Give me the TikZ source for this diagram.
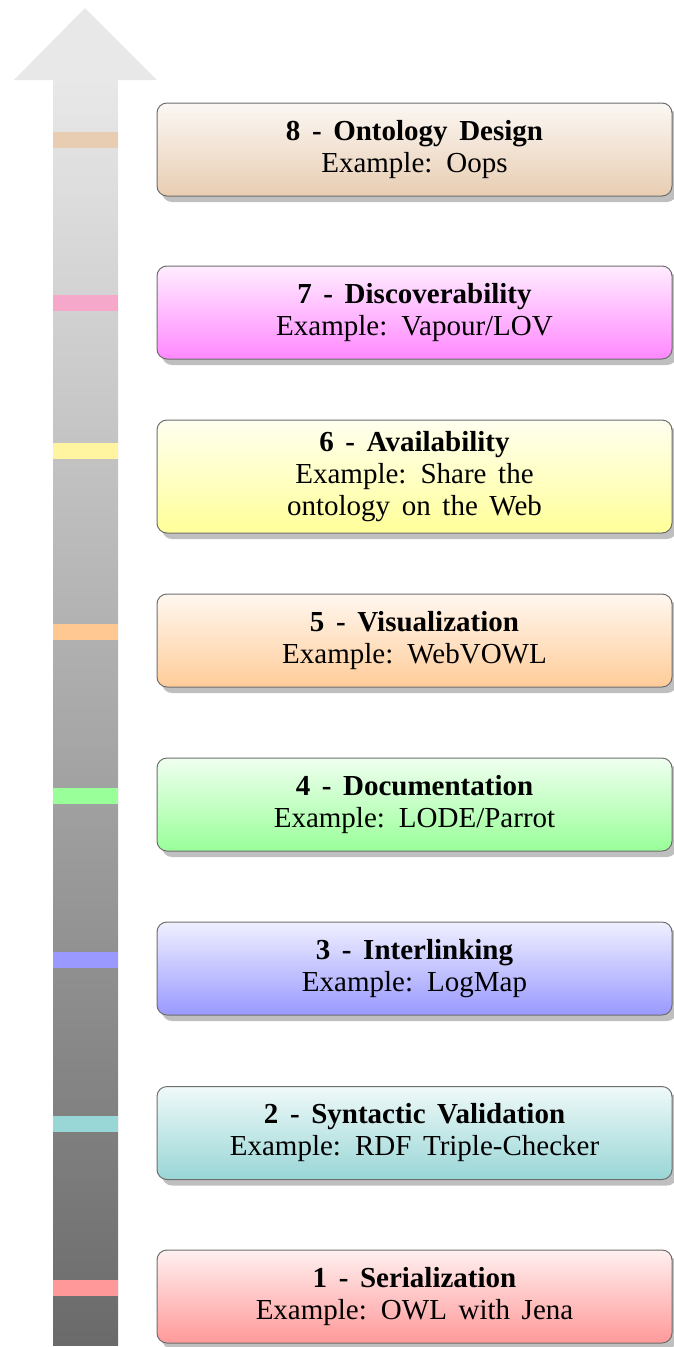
\documentclass[tikz,border=0pt]{standalone}
\usepackage{fontspec}
\setmainfont[WordSpace=1.6]{Liberation Serif}
\usetikzlibrary{shadows}
\definecolor{cTan}{HTML}{E8CDB2}
\definecolor{cMag}{HTML}{FF88FF}
\definecolor{cYel}{HTML}{FFFF99}
\definecolor{cOra}{HTML}{FFCC99}
\definecolor{cGre}{HTML}{99FF99}
\definecolor{cBlu}{HTML}{9999FF}
\definecolor{cTea}{HTML}{99D6D6}
\definecolor{cRed}{HTML}{FF9999}
\definecolor{bPink}{HTML}{F5A8CA}
\definecolor{bYel}{HTML}{FFF5A0}
\definecolor{bOra}{HTML}{FFC892}
\definecolor{arrTop}{HTML}{E8E8E8}
\definecolor{arrBot}{HTML}{6A6A6A}
\definecolor{boxLine}{HTML}{6E6E6E}
\tikzset{
  stage/.style={draw=boxLine, line width=1pt, rounded corners=10pt,
    minimum width=515pt, inner sep=0pt, align=center,
    font=\fontsize{29}{32}\selectfont,
    top color=#1!15!white, bottom color=#1,
    drop shadow={shadow xshift=5pt, shadow yshift=-6pt, fill=gray!50, opacity=1}},
  band/.style={fill=#1, draw=none}
}
\begin{document}
\begin{tikzpicture}[x=1pt,y=-1pt]
\useasboundingbox (0,0) rectangle (673,1347);
% arrow
\shade[top color=arrTop, bottom color=arrBot] (53,80) rectangle (118,1345);
\fill[arrTop] (14,80) -- (85,8) -- (157,80) -- cycle;
% bands
\fill[band=cTan] (53,132) rectangle (118,148);
\fill[band=bPink] (53,295) rectangle (118,311);
\fill[band=bYel] (53,443) rectangle (118,459);
\fill[band=bOra] (53,624) rectangle (118,640);
\fill[band=cGre] (53,788) rectangle (118,804);
\fill[band=cBlu] (53,952) rectangle (118,968);
\fill[band=cTea] (53,1116) rectangle (118,1132);
\fill[band=cRed] (53,1280) rectangle (118,1296);
% boxes
\node[stage=cTan, minimum height=93pt] (b8) at (414.5,149.5) {\textbf{8 - Ontology Design}\\Example: Oops};
\node[stage=cMag, minimum height=93pt] (b7) at (414.5,312.5) {\textbf{7 - Discoverability}\\Example: Vapour/LOV};
\node[stage=cYel, minimum height=113pt] (b6) at (414.5,476.5) {\textbf{6 - Availability}\\Example: Share the\\ontology on the Web};
\node[stage=cOra, minimum height=93pt] (b5) at (414.5,640.5) {\textbf{5 - Visualization}\\Example: WebVOWL};
\node[stage=cGre, minimum height=93pt] (b4) at (414.5,804.5) {\textbf{4 - Documentation}\\Example: LODE/Parrot};
\node[stage=cBlu, minimum height=93pt] (b3) at (414.5,968.5) {\textbf{3 - Interlinking}\\Example: LogMap};
\node[stage=cTea, minimum height=93pt] (b2) at (414.5,1133) {\textbf{2 - Syntactic Validation}\\Example: RDF Triple-Checker};
\node[stage=cRed, minimum height=93pt] (b1) at (414.5,1296.5) {\textbf{1 - Serialization}\\Example: OWL with Jena};
\end{tikzpicture}
\end{document}
